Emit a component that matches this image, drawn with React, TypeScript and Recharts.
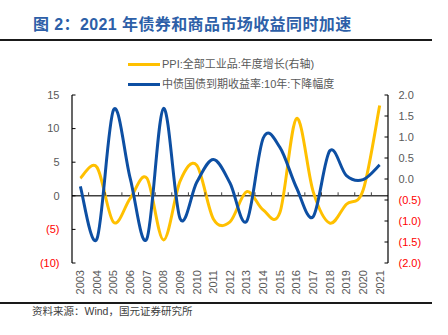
import React from 'react';
import { LineChart, Line, XAxis, YAxis, CartesianGrid } from 'recharts';

const years = ['2003','2004','2005','2006','2007','2008','2009','2010','2011','2012','2013','2014','2015','2016','2017','2018','2019','2020','2021'];
// PPI:全部工业品:年度增长(右轴) — yellow, right axis
const ppi = [0.02, 0.28, -1.03, -0.46, 0.02, -1.45, -0.05, 0.33, -0.95, -1.02, -0.30, -0.74, -0.80, 1.44, -0.30, -1.05, -0.60, -0.27, 1.75];
// 中债国债到期收益率:10年:下降幅度 — blue, left axis
const bond = [1.4, -6.4, 12.8, 2.6, -6.4, 13.0, -3.4, 2.0, 5.4, 1.9, -3.8, 8.6, 7.2, 1.2, -3.1, 6.7, 3.0, 2.4, 4.6];
const leftTicks = [-10, -5, 0, 5, 10, 15];
const rightTicks = [-2, -1.5, -1, -0.5, 0, 0.5, 1, 1.5, 2];

const data = years.map((y, i) => ({ year: y, ppi: ppi[i], bond: bond[i] }));

const W = 448, H = 335;
const M_TOP = 95, M_BOTTOM = 32, X_H = 40, LEFT_W = 72, RIGHT_W = 60;
const PLOT_W = W - LEFT_W - RIGHT_W;
const PLOT_H = H - M_TOP - M_BOTTOM - X_H;
const BAND = PLOT_W / years.length;
const ZERO_Y = M_TOP + PLOT_H * 15 / 25;
const FONT = '"Liberation Sans", Arial, "Noto Sans CJK SC", sans-serif';

const excelCurve = (context: any) => {
  let pts: number[][] = [];
  return {
    areaStart() {},
    areaEnd() {},
    lineStart() { pts = []; },
    lineEnd() {
      const n = pts.length;
      if (!n) return;
      context.moveTo(pts[0][0], pts[0][1]);
      for (let i = 0; i < n - 1; i++) {
        const p0 = pts[Math.max(0, i - 1)], p1 = pts[i], p2 = pts[i + 1], p3 = pts[Math.min(n - 1, i + 2)];
        context.bezierCurveTo(
          p1[0] + (p2[0] - p0[0]) / 6, p1[1] + (p2[1] - p0[1]) / 6,
          p2[0] - (p3[0] - p1[0]) / 6, p2[1] - (p3[1] - p1[1]) / 6,
          p2[0], p2[1]
        );
      }
    },
    point(x: number, y: number) { pts.push([+x, +y]); },
  };
};

const XTick = (props: any) => {
  const { x, y, payload, index } = props;
  return (
    <g>
      <text x={x} y={y} transform={`rotate(-90, ${x}, ${y})`} textAnchor="end" dy="0.35em" fontSize={11} fill="#595959" fontFamily={FONT}>{payload.value}</text>
      {index < years.length - 1 && (
        <line x1={x + BAND / 2} x2={x + BAND / 2} y1={ZERO_Y} y2={ZERO_Y - 3.5} stroke="#404040" strokeWidth={1} />
      )}
    </g>
  );
};

const LeftTick = (props: any) => {
  const { x, y, payload } = props;
  const v = payload.value;
  const neg = v < 0;
  return (
    <g>
      <line x1={x} x2={x + 3.5} y1={y} y2={y} stroke="#000" strokeWidth={1} />
      <text x={x - 12.5} y={y} dy="0.35em" textAnchor="end" fontSize={11} fill={neg ? '#FF0000' : '#595959'} fontFamily={FONT}>{neg ? `(${-v})` : `${v}`}</text>
    </g>
  );
};

const RightTick = (props: any) => {
  const { x, y, payload } = props;
  const v = payload.value;
  const neg = v < 0;
  return (
    <g>
      <line x1={x} x2={x - 3.5} y1={y} y2={y} stroke="#000" strokeWidth={1} />
      <text x={x + 10.5} y={y} dy="0.35em" textAnchor="start" fontSize={11} fill={neg ? '#FF0000' : '#595959'} fontFamily={FONT}>{neg ? `(${(-v).toFixed(1)})` : v.toFixed(1)}</text>
    </g>
  );
};

const legendItems = [
  { color: '#FFC000', label: 'PPI:全部工业品:年度增长(右轴)' },
  { color: '#0D4FA3', label: '中债国债到期收益率:10年:下降幅度' },
];

export default function App() {
  return (
    <div style={{ position: 'absolute', left: 0, top: 0, width: W, height: H, background: '#fff', overflow: 'hidden', fontFamily: FONT }}>
      <div style={{ position: 'absolute', left: 33, top: 16, fontSize: 16, lineHeight: '18px', fontWeight: 'bold', color: '#2D5FA8', whiteSpace: 'nowrap', letterSpacing: 0.4, fontFamily: '"Liberation Sans", Arial, "Noto Sans CJK SC", sans-serif' }}>
        图 2：2021 年债券和商品市场收益同时加速
      </div>
      <div style={{ position: 'absolute', left: 0, top: 39, width: 432, height: 2, background: '#1a1a1a' }} />
      {legendItems.map((it, i) => (
        <div key={i} style={{ position: 'absolute', left: 128, top: 57 + i * 20, height: 14, display: 'flex', alignItems: 'center', whiteSpace: 'nowrap' }}>
          <div style={{ width: 32, height: 3, background: it.color, marginRight: 2 }} />
          <span style={{ fontSize: 11, color: '#595959', lineHeight: '14px' }}>{it.label}</span>
        </div>
      ))}
      <div style={{ position: 'absolute', left: 0, top: 0 }}>
        <LineChart width={W} height={H} data={data} margin={{ top: M_TOP, right: 0, bottom: M_BOTTOM, left: 0 }}>
          <CartesianGrid yAxisId="left" vertical={false} horizontalValues={[0]} stroke="#404040" strokeWidth={1.5} />
          <XAxis dataKey="year" height={X_H} padding={{ left: BAND / 2, right: BAND / 2 }} axisLine={false} tickLine={false} tickSize={0} tickMargin={7} interval={0} tick={<XTick />} />
          <YAxis yAxisId="left" width={LEFT_W} domain={[-10, 15]} ticks={leftTicks} axisLine={{ stroke: '#000', strokeWidth: 1.2 }} tickLine={false} tickSize={0} tickMargin={0} interval={0} tick={<LeftTick />} />
          <YAxis yAxisId="right" orientation="right" width={RIGHT_W} domain={[-2, 2]} ticks={rightTicks} axisLine={{ stroke: '#000', strokeWidth: 1.2 }} tickLine={false} tickSize={0} tickMargin={0} interval={0} tick={<RightTick />} />
          <Line yAxisId="right" dataKey="ppi" type={excelCurve as any} stroke="#FFC000" strokeWidth={3} dot={false} activeDot={false} isAnimationActive={false} />
          <Line yAxisId="left" dataKey="bond" type={excelCurve as any} stroke="#0D4FA3" strokeWidth={3} dot={false} activeDot={false} isAnimationActive={false} />
        </LineChart>
      </div>
      <div style={{ position: 'absolute', left: 0, top: 302, width: 432, height: 1.5, background: '#1a1a1a' }} />
      <div style={{ position: 'absolute', left: 32, top: 304, fontSize: 10.5, lineHeight: '14px', color: '#404040', whiteSpace: 'nowrap' }}>
        资料来源：Wind，国元证券研究所
      </div>
    </div>
  );
}
